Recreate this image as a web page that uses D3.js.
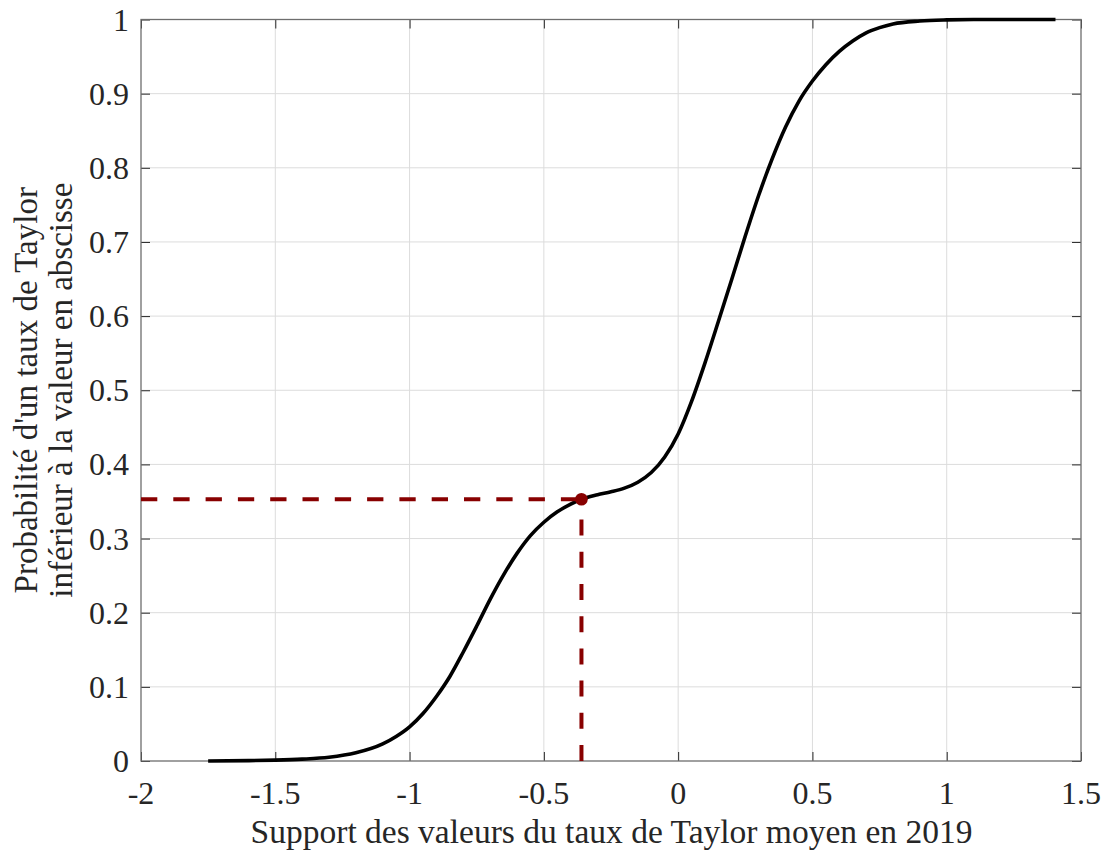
<!DOCTYPE html>
<html>
<head>
<meta charset="utf-8">
<script src="https://cdn.jsdelivr.net/npm/d3@7/dist/d3.min.js"></script>
<style>
  html, body { margin: 0; padding: 0; background: #fff; }
  svg { display: block; }
</style>
</head>
<body>
<svg id="chart" width="1108" height="853"></svg>
<script>
// Data
const xValues = [-1.75, -1.6, -1.5, -1.4, -1.3, -1.2, -1.1, -1.05, -1.0, -0.95, -0.9, -0.85, -0.8, -0.75,
  -0.7, -0.65, -0.6, -0.55, -0.5, -0.45, -0.4, -0.36, -0.3, -0.25, -0.2, -0.15, -0.1, -0.05, 0,
  0.05, 0.1, 0.15, 0.2, 0.25, 0.3, 0.35, 0.4, 0.45, 0.5, 0.55, 0.6, 0.65, 0.7, 0.75, 0.8, 0.9,
  1.0, 1.1, 1.2, 1.3, 1.405];
const cdfValues = [0.0, 0.0005, 0.0012, 0.0025, 0.005, 0.011, 0.023, 0.033, 0.046, 0.064, 0.087, 0.114, 0.147, 0.182,
  0.218, 0.251, 0.280, 0.304, 0.322, 0.336, 0.3465, 0.353, 0.359, 0.363, 0.368, 0.376, 0.389, 0.410, 0.441,
  0.485, 0.537, 0.593, 0.650, 0.708, 0.763, 0.812, 0.855, 0.890, 0.917, 0.939, 0.957, 0.971, 0.982, 0.989, 0.994, 0.998,
  0.9995, 1.0, 1.0, 1.0, 1.0];
const markerPoint = [-0.36, 0.353];
const xTicks = [-2, -1.5, -1, -0.5, 0, 0.5, 1, 1.5];
const xTickLabels = ["-2", "-1.5", "-1", "-0.5", "0", "0.5", "1", "1.5"];
const yTicks = [0, 0.1, 0.2, 0.3, 0.4, 0.5, 0.6, 0.7, 0.8, 0.9, 1];
const yTickLabels = ["0", "0.1", "0.2", "0.3", "0.4", "0.5", "0.6", "0.7", "0.8", "0.9", "1"];
const xLabel = "Support des valeurs du taux de Taylor moyen en 2019";
const yLabelLines = ["Probabilité d'un taux de Taylor", "inférieur à la valeur en abscisse"];

const FONT = "Liberation Serif";
const TXT = "#262626";
const svg = d3.select("#chart");
const L = 141, R = 1081, T = 19.5, B = 761;
const x = d3.scaleLinear().domain([-2, 1.5]).range([L, R]);
const y = d3.scaleLinear().domain([0, 1]).range([B, T]);

// grid
const grid = svg.append("g");
grid.selectAll(".gx").data(xTicks.slice(1, -1)).enter().append("line")
  .attr("x1", d => x(d)).attr("x2", d => x(d)).attr("y1", T).attr("y2", B)
  .attr("stroke", "#dcdcdc").attr("stroke-width", 1);
grid.selectAll(".gy").data(yTicks.slice(1, -1)).enter().append("line")
  .attr("y1", d => y(d)).attr("y2", d => y(d)).attr("x1", L).attr("x2", R)
  .attr("stroke", "#dcdcdc").attr("stroke-width", 1);

// axes: tick marks only (inward, mirrored)
const tickLen = 9;
const axB = svg.append("g").attr("transform", `translate(0,${B})`)
  .call(d3.axisBottom(x).tickValues(xTicks).tickFormat("").tickSizeInner(-tickLen).tickSizeOuter(0));
const axT = svg.append("g").attr("transform", `translate(0,${T})`)
  .call(d3.axisTop(x).tickValues(xTicks).tickFormat("").tickSizeInner(-tickLen).tickSizeOuter(0));
const axL = svg.append("g").attr("transform", `translate(${L},0)`)
  .call(d3.axisLeft(y).tickValues(yTicks).tickFormat("").tickSizeInner(-tickLen).tickSizeOuter(0));
const axR = svg.append("g").attr("transform", `translate(${R},0)`)
  .call(d3.axisRight(y).tickValues(yTicks).tickFormat("").tickSizeInner(-tickLen).tickSizeOuter(0));
[axB, axT, axL, axR].forEach(a => {
  a.select(".domain").remove();
  a.selectAll("text").remove();
  a.selectAll(".tick line").attr("stroke", TXT).attr("stroke-width", 1);
});

// tick labels (serif)
const labels = svg.append("g").attr("font-family", FONT).attr("fill", TXT);
labels.selectAll(".xt").data(xTicks).enter().append("text")
  .attr("x", d => x(d)).attr("y", B + 42.5).attr("text-anchor", "middle")
  .attr("font-family", FONT).attr("font-size", 32).attr("fill", TXT)
  .text((d, i) => xTickLabels[i]);
labels.selectAll(".yt").data(yTicks).enter().append("text")
  .attr("x", L - 12).attr("y", d => y(d) + 11).attr("text-anchor", "end")
  .attr("font-family", FONT).attr("font-size", 32).attr("fill", TXT)
  .text((d, i) => yTickLabels[i]);

// box
svg.append("rect").attr("x", L).attr("y", T).attr("width", R - L).attr("height", B - T)
  .attr("fill", "none").attr("stroke", "#6e6e6e").attr("stroke-width", 1.3);

// curve
const pts = xValues.map((d, i) => [d, cdfValues[i]]);
const line = d3.line().x(d => x(d[0])).y(d => y(d[1])).curve(d3.curveMonotoneX);
svg.append("path").datum(pts).attr("d", line)
  .attr("fill", "none").attr("stroke", "#000").attr("stroke-width", 3.6)
  .attr("stroke-linejoin", "round").attr("stroke-linecap", "butt");

// dashed reference lines
const red = "#880000";
svg.append("line").attr("x1", x(-2)).attr("x2", x(markerPoint[0])).attr("y1", y(markerPoint[1])).attr("y2", y(markerPoint[1]))
  .attr("stroke", red).attr("stroke-width", 4).attr("stroke-dasharray", "16.3,16");
svg.append("line").attr("x1", x(markerPoint[0])).attr("x2", x(markerPoint[0])).attr("y1", y(0)).attr("y2", y(markerPoint[1]))
  .attr("stroke", red).attr("stroke-width", 4).attr("stroke-dasharray", "16,16.2");
svg.append("circle").attr("cx", x(markerPoint[0])).attr("cy", y(markerPoint[1])).attr("r", 6.3).attr("fill", red);

// axis titles
svg.append("text").attr("x", (L + R) / 2 + 0.5).attr("y", 843).attr("text-anchor", "middle")
  .attr("font-family", FONT).attr("font-size", 33.5).attr("fill", TXT).text(xLabel);
const yl = svg.append("text").attr("transform", `translate(0,${(T + B) / 2}) rotate(-90)`)
  .attr("text-anchor", "middle").attr("font-family", FONT).attr("font-size", 33).attr("fill", TXT);
yl.append("tspan").attr("x", 0).attr("y", 37).text(yLabelLines[0]);
yl.append("tspan").attr("x", 0).attr("y", 72).text(yLabelLines[1]);
</script>
</body>
</html>
